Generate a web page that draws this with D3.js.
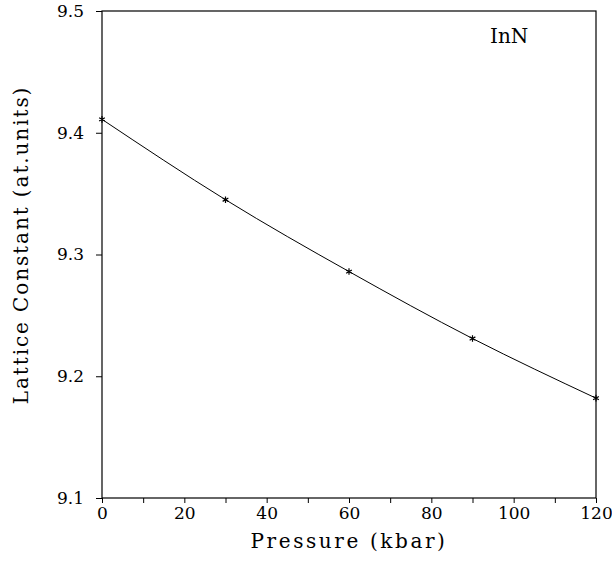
<!DOCTYPE html>
<html>
<head>
<meta charset="utf-8">
<script src="https://cdn.jsdelivr.net/npm/d3@7"></script>
<style>
  body { margin: 0; background: #fff; }
  svg { display: block; }
  text { font-family: "DejaVu Serif", "Liberation Serif", serif; fill: #000; }
</style>
</head>
<body>
<div id="chart"></div>
<script>
// Data
var pressure = [0, 30, 60, 90, 120];
var latticeConst = [9.411, 9.345, 9.286, 9.231, 9.182];
var xTicks = [0, 20, 40, 60, 80, 100, 120];
var xMinorTicks = [10, 30, 50, 70, 90, 110];
var yTicks = [9.1, 9.2, 9.3, 9.4, 9.5];

var points = pressure.map(function(p, i) { return { x: p, y: latticeConst[i] }; });

// Chart dimensions
var totalW = 612, totalH = 562;
var margin = { top: 11, right: 16, bottom: 64, left: 102 },
    width = totalW - margin.left - margin.right,
    height = totalH - margin.top - margin.bottom;

var svg = d3.select("#chart")
    .append("svg")
    .attr("width", totalW)
    .attr("height", totalH)
    .append("g")
    .attr("transform", "translate(" + margin.left + "," + margin.top + ")");

// Scales
var x = d3.scaleLinear().domain([0, 120]).range([0, width]);
var y = d3.scaleLinear().domain([9.1, 9.5]).range([height, 0]);

// Frame
svg.append("rect")
    .attr("width", width)
    .attr("height", height)
    .attr("fill", "none")
    .attr("stroke", "#000")
    .attr("stroke-width", 1.2);

// X axis (major + minor ticks pointing down)
var xAxis = svg.append("g")
    .attr("transform", "translate(0," + height + ")")
    .call(d3.axisBottom(x).tickValues(xTicks).tickSize(5).tickPadding(4).tickFormat(d3.format("d")));
xAxis.select(".domain").remove();
xAxis.selectAll("text").style("font-size", "17px");

var xMinor = svg.append("g")
    .attr("transform", "translate(0," + height + ")")
    .call(d3.axisBottom(x).tickValues(xMinorTicks).tickSize(5).tickFormat(""));
xMinor.select(".domain").remove();

// Y axis
var yAxis = svg.append("g")
    .call(d3.axisLeft(y).tickValues(yTicks).tickSize(6).tickPadding(12).tickFormat(d3.format(".1f")));
yAxis.select(".domain").remove();
yAxis.selectAll("text").style("font-size", "17px");

// Curve
var line = d3.line()
    .x(function(d) { return x(d.x); })
    .y(function(d) { return y(d.y); })
    .curve(d3.curveNatural);

svg.append("path")
    .datum(points)
    .attr("fill", "none")
    .attr("stroke", "#000")
    .attr("stroke-width", 1)
    .attr("d", line);

// Asterisk markers
svg.selectAll(".pt")
    .data(points)
    .enter().append("path")
    .attr("class", "pt")
    .attr("transform", function(d) { return "translate(" + x(d.x) + "," + y(d.y) + ")"; })
    .attr("d", d3.symbol().type(d3.symbolAsterisk).size(30))
    .attr("fill", "none")
    .attr("stroke", "#000")
    .attr("stroke-width", 1.2);

// Axis labels
svg.append("text")
    .attr("x", width / 2)
    .attr("y", height + 50)
    .attr("text-anchor", "middle")
    .style("font-size", "20px")
    .style("letter-spacing", "2.6px")
    .text("Pressure  (kbar)");

svg.append("text")
    .attr("transform", "translate(" + (28 - margin.left) + "," + (245 - margin.top) + ") rotate(-90)")
    .attr("text-anchor", "middle")
    .style("font-size", "20px")
    .style("letter-spacing", "1.9px")
    .text("Lattice  Constant  (at.units)");

// Material label
svg.append("text")
    .attr("x", 490 - margin.left)
    .attr("y", 43 - margin.top)
    .style("font-size", "20px")
    .text("InN");
</script>
</body>
</html>
